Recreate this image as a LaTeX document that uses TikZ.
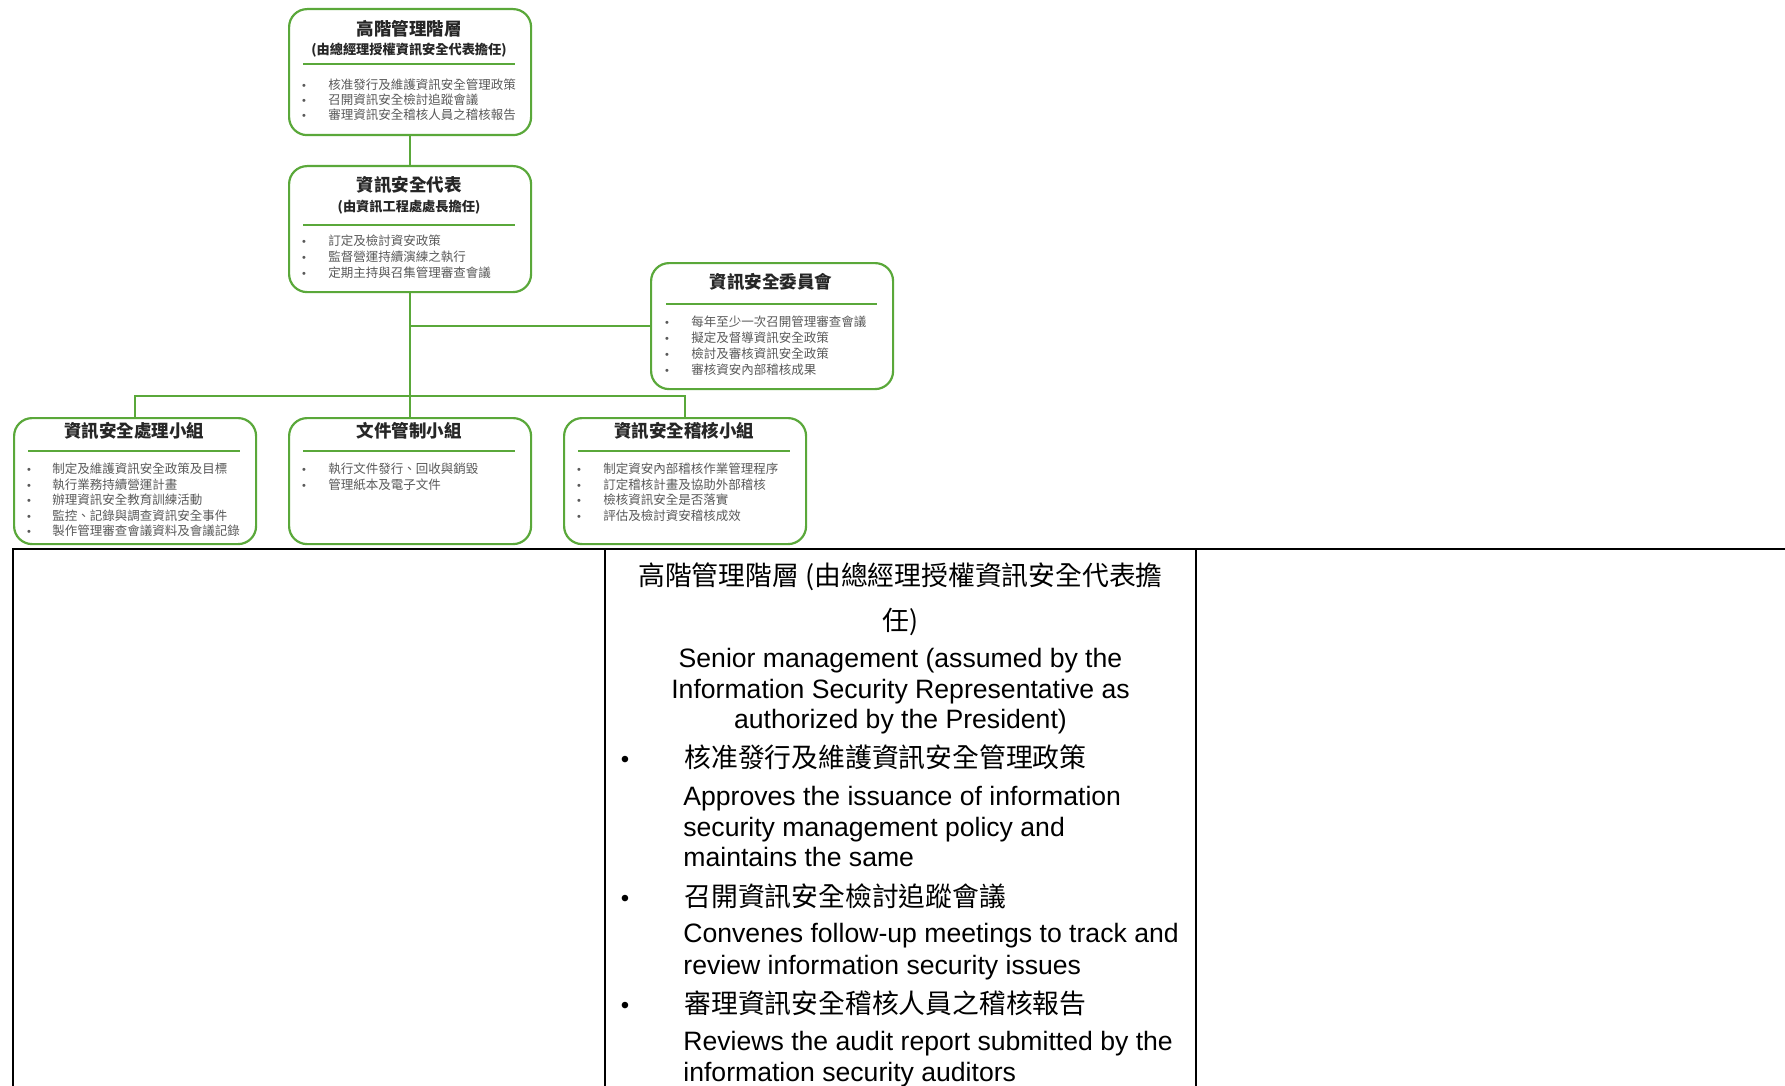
\documentclass[tikz,border=0pt]{standalone}
\usepackage{fontspec}
\setmainfont{Liberation Sans}
\newfontfamily\cjk{Noto Sans CJK TC}
\usetikzlibrary{calc}
\definecolor{orggreen}{HTML}{5AA83A}
\definecolor{itemgray}{HTML}{595959}
\definecolor{titleink}{HTML}{262626}

\begin{document}
\begin{tikzpicture}[x=0.5pt,y=-0.5pt,
  unitbox/.style={draw=orggreen, line width=1.1pt, rounded corners=9pt,
    minimum width=121pt, minimum height=63pt, inner sep=0pt, anchor=north west},
  link/.style={draw=orggreen, line width=1pt},
  sepline/.style={draw=orggreen, line width=0.8pt},
  unittitle/.style={font=\cjk\bfseries\fontsize{8.75}{10}\selectfont, text=titleink, inner sep=0pt, anchor=base},
  unitsub/.style={font=\cjk\bfseries\fontsize{6.6}{8}\selectfont, text=titleink, inner sep=0pt, anchor=base},
  unititem/.style={font=\cjk\fontsize{6.25}{7.5}\selectfont, text=itemgray, inner sep=0pt, anchor=base west},
  unitdot/.style={font=\fontsize{5.5}{6}\selectfont, text=itemgray, inner sep=0pt, anchor=base},
  rule/.style={draw=black, line width=1.15pt},
  toprule/.style={draw=black, line width=1.3pt},
  cjkline/.style={font=\cjk\fontsize{13.4}{16}\selectfont, inner sep=0pt},
  enline/.style={font=\fontsize{13.3}{15}\selectfont, inner sep=0pt},
  tabdot/.style={font=\fontsize{12}{14}\selectfont, inner sep=0pt, anchor=base},
]
\useasboundingbox (0,0) rectangle (1785,1086);

% ---------- organisation chart ----------
\node[unitbox] (top)  at (288,8)   {};
\node[unitbox] (rep)  at (288,165) {};
\node[unitbox] (com)  at (650,262) {};
\node[unitbox] (proc) at (13,417)  {};
\node[unitbox] (doc)  at (288,417) {};
\node[unitbox] (aud)  at (563,417) {};

% connectors
\coordinate (bus) at (409,396);
\draw[link] (top.south) -- (rep.north);
\draw[link] (rep.south) -- (doc.north);
\draw[link] (rep.south |- com.west) -- (com.west);
\draw[link] (proc.north) -- (proc.north |- bus) -- (aud.north |- bus) -- (aud.north);

% senior management
\node[unittitle] (top-t) at (409,35.7) {高階管理階層};
\node[unitsub]   (top-s) at (409,54.5) {(由總經理授權資訊安全代表擔任)};
\draw[sepline] (303,64) -- (515,64);
\foreach \txt [count=\i] in {核准發行及維護資訊安全管理政策,召開資訊安全檢討追蹤會議,審理資訊安全稽核人員之稽核報告}{
  \node[unitdot]  (top-d\i) at (304,{89.75+15*(\i-1)}) {•};
  \node[unititem] (top-i\i) at (328,{89.75+15*(\i-1)}) {\txt};
}

% security representative
\node[unittitle] (rep-t) at (409,191.7) {資訊安全代表};
\node[unitsub]   (rep-s) at (409,211.5) {(由資訊工程處處長擔任)};
\draw[sepline] (303,225) -- (515,225);
\foreach \txt [count=\i] in {訂定及檢討資安政策,監督營運持續演練之執行,定期主持與召集管理審查會議}{
  \node[unitdot]  (rep-d\i) at (304,{245.75+16*(\i-1)}) {•};
  \node[unititem] (rep-i\i) at (328,{245.75+16*(\i-1)}) {\txt};
}

% committee
\node[unittitle] (com-t) at (771,288.7) {資訊安全委員會};
\draw[sepline] (666,304) -- (877,304);
\foreach \txt [count=\i] in {每年至少一次召開管理審查會議,擬定及督導資訊安全政策,檢討及審核資訊安全政策,審核資安內部稽核成果}{
  \node[unitdot]  (com-d\i) at (667,{326.75+16*(\i-1)}) {•};
  \node[unititem] (com-i\i) at (691,{326.75+16*(\i-1)}) {\txt};
}

% processing group
\node[unittitle] (proc-t) at (134,437.7) {資訊安全處理小組};
\draw[sepline] (28,451) -- (240,451);
\foreach \txt [count=\i] in {制定及維護資訊安全政策及目標,執行業務持續營運計畫,辦理資訊安全教育訓練活動,監控、記錄與調查資訊安全事件,製作管理審查會議資料及會議記錄}{
  \node[unitdot]  (proc-d\i) at (29,{473.75+15.5*(\i-1)}) {•};
  \node[unititem] (proc-i\i) at (52,{473.75+15.5*(\i-1)}) {\txt};
}

% document control group
\node[unittitle] (doc-t) at (409,437.7) {文件管制小組};
\draw[sepline] (303,451) -- (515,451);
\foreach \txt [count=\i] in {執行文件發行、回收與銷毀,管理紙本及電子文件}{
  \node[unitdot]  (doc-d\i) at (304,{473.75+15.5*(\i-1)}) {•};
  \node[unititem] (doc-i\i) at (328,{473.75+15.5*(\i-1)}) {\txt};
}

% audit group
\node[unittitle] (aud-t) at (684,437.7) {資訊安全稽核小組};
\draw[sepline] (578,451) -- (790,451);
\foreach \txt [count=\i] in {制定資安內部稽核作業管理程序,訂定稽核計畫及協助外部稽核,檢核資訊安全是否落實,評估及檢討資安稽核成效}{
  \node[unitdot]  (aud-d\i) at (579,{473.75+15.5*(\i-1)}) {•};
  \node[unititem] (aud-i\i) at (603,{473.75+15.5*(\i-1)}) {\txt};
}

% ---------- description table ----------
\coordinate (tl) at (12,549);
\coordinate (tr) at (1785,549);
\draw[toprule] (tl) -- (tr);
\draw[rule] (13.3,549) -- (13.3,1090);
\draw[rule] (605,549) -- (605,1090);
\draw[rule] (1196,549) -- (1196,1090);

\node[cjkline,anchor=base] (h1) at (900.5,585) {高階管理階層 (由總經理授權資訊安全代表擔};
\node[cjkline,anchor=base] (h2) at (900.5,630) {任)};
\node[enline,anchor=base] (e1) at (900.5,667) {Senior management (assumed by the};
\node[enline,anchor=base] (e2) at (900.5,698) {Information Security Representative as};
\node[enline,anchor=base] (e3) at (900.5,728) {authorized by the President)};

\node[tabdot] (b1) at (625,767) {•};
\node[cjkline,anchor=base west] (c1) at (684,767) {核准發行及維護資訊安全管理政策};
\node[enline,anchor=base west] (a1) at (683,805) {Approves the issuance of information};
\node[enline,anchor=base west] (a2) at (683,836) {security management policy and};
\node[enline,anchor=base west] (a3) at (683,866) {maintains the same};

\node[tabdot] (b2) at (625,906) {•};
\node[cjkline,anchor=base west] (c2) at (684,906) {召開資訊安全檢討追蹤會議};
\node[enline,anchor=base west] (a4) at (683,942.5) {Convenes follow-up meetings to track and};
\node[enline,anchor=base west] (a5) at (683,974) {review information security issues};

\node[tabdot] (b3) at (625,1013) {•};
\node[cjkline,anchor=base west] (c3) at (684,1013) {審理資訊安全稽核人員之稽核報告};
\node[enline,anchor=base west] (a6) at (683,1050.5) {Reviews the audit report submitted by the};
\node[enline,anchor=base west] (a7) at (683,1081) {information security auditors};
\end{tikzpicture}
\end{document}
